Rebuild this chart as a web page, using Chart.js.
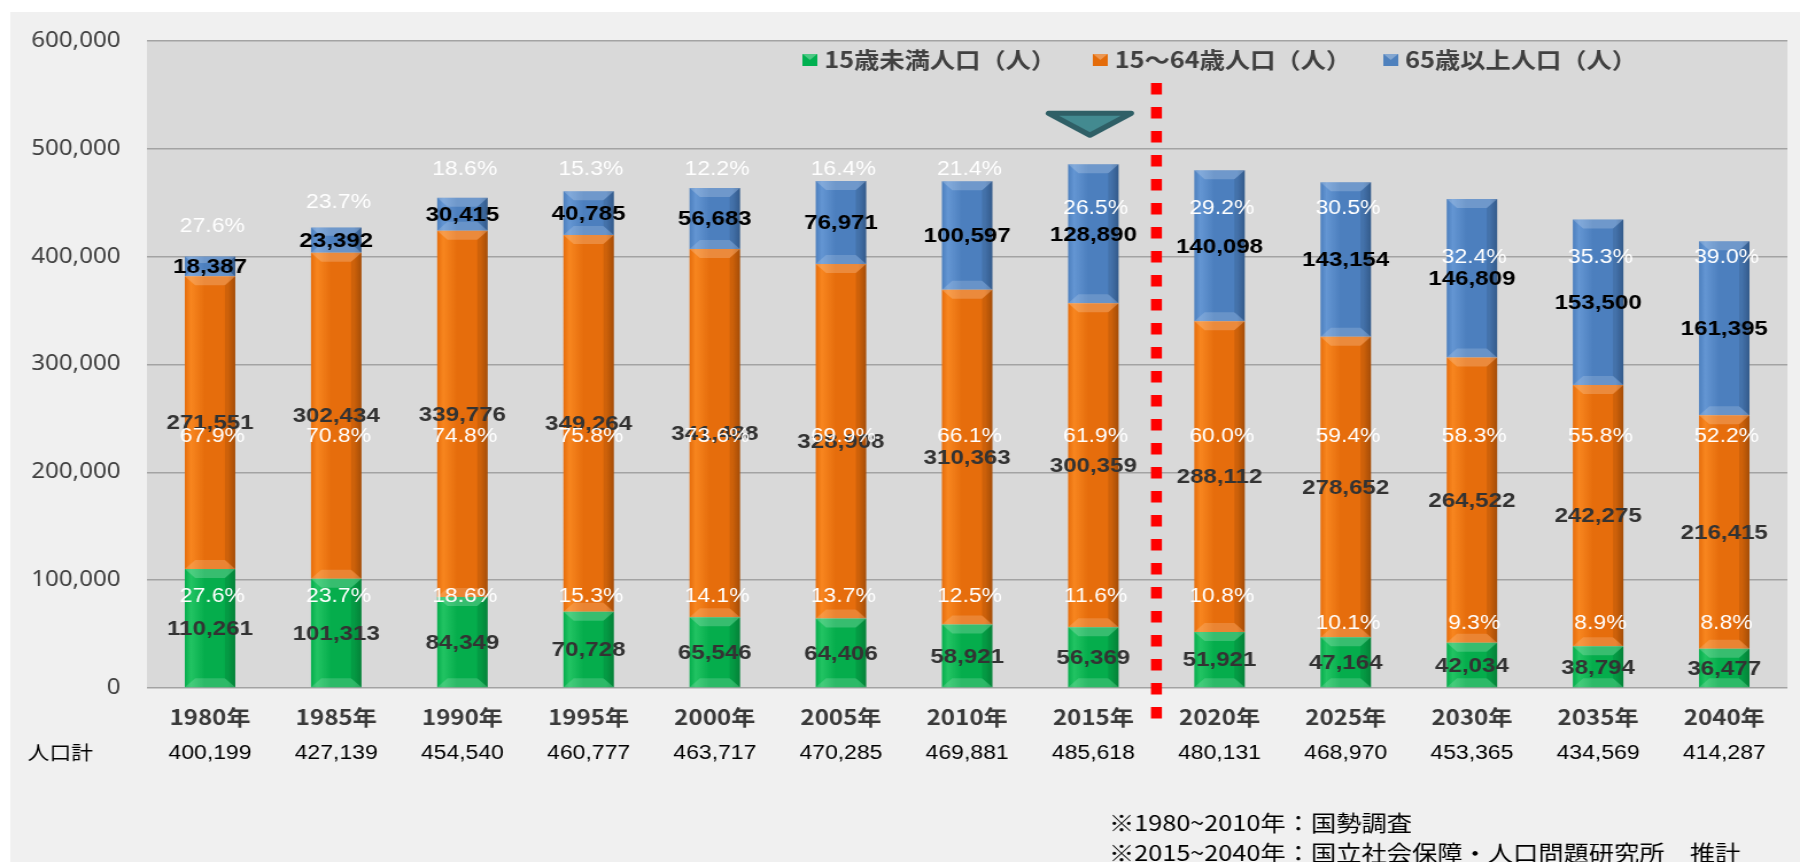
<!DOCTYPE html>
<html lang="ja">
<head>
<meta charset="utf-8">
<title>年齢3区分別人口の推移</title>
<script src="https://cdn.jsdelivr.net/npm/chart.js@4/dist/chart.umd.min.js"></script>
<style>
  html, body { margin: 0; padding: 0; background: #ffffff; }
  #wrap { width: 1800px; height: 862px; overflow: hidden; }
</style>
</head>
<body>
<div id="wrap">
  <!-- drawn at 1568 wide and stretched to 1800, like the source picture -->
  <canvas id="popChart" width="1568" height="862" style="width:1800px;height:862px;display:block"></canvas>
</div>
<script>
// 年次
const years = ['1980年', '1985年', '1990年', '1995年', '2000年', '2005年', '2010年',
               '2015年', '2020年', '2025年', '2030年', '2035年', '2040年'];

// 人口（人）
const under15 = [110261, 101313, 84349, 70728, 65546, 64406, 58921,
                 56369, 51921, 47164, 42034, 38794, 36477];
const age15to64 = [271551, 302434, 339776, 349264, 341488, 328908, 310363,
                   300359, 288112, 278652, 264522, 242275, 216415];
const over65 = [18387, 23392, 30415, 40785, 56683, 76971, 100597,
                128890, 140098, 143154, 146809, 153500, 161395];
const totals = [400199, 427139, 454540, 460777, 463717, 470285, 469881,
                485618, 480131, 468970, 453365, 434569, 414287];

// 割合（%）: as printed on the chart
const under15Pct = [27.6, 23.7, 18.6, 15.3, 14.1, 13.7, 12.5, 11.6, 10.8, 10.1, 9.3, 8.9, 8.8];
const age15to64Pct = [67.9, 70.8, 74.8, 75.8, 73.6, 69.9, 66.1, 61.9, 60.0, 59.4, 58.3, 55.8, 52.2];
const over65Pct = [27.6, 23.7, 18.6, 15.3, 12.2, 16.4, 21.4, 26.5, 29.2, 30.5, 32.4, 35.3, 39.0];

const seriesNames = ['15歳未満人口（人）', '15～64歳人口（人）', '65歳以上人口（人）'];
const yTickMax = 600000;
const yTickStep = 100000;

const notes = ['※1980~2010年：国勢調査', '※2015~2040年：国立社会保障・人口問題研究所　推計'];

const JP = '"Noto Sans CJK JP", "Noto Sans", sans-serif';
const LAT = '"Liberation Sans", Arial, sans-serif';

const palette = [
  { light: '#22c463', mid: '#05ad4c', dark: '#06913f', key: '#00b050' },
  { light: '#f8861f', mid: '#e66d0c', dark: '#b85608', key: '#e46c0a' },
  { light: '#6496d3', mid: '#4c7fbe', dark: '#3a659b', key: '#4f81bd' }
];

const fmt = v => v.toLocaleString('en-US');

// horizontal shading across each column
function columnFill(p) {
  return function (ctx) {
    const chart = ctx.chart;
    const xs = chart.scales.x;
    if (ctx.type !== 'data' || !xs || !xs.width) return p.mid;
    const cx = xs.getPixelForValue(ctx.dataIndex);
    const half = xs.width / years.length * 0.4 / 2;
    const g = chart.ctx.createLinearGradient(cx - half, 0, cx + half, 0);
    g.addColorStop(0, p.mid);
    g.addColorStop(0.12, p.light);
    g.addColorStop(0.4, p.mid);
    g.addColorStop(0.85, p.mid);
    g.addColorStop(1, p.dark);
    return g;
  };
}

const decor = {
  id: 'decor',
  beforeDraw(chart) {
    const { ctx, chartArea: a } = chart;
    ctx.save();
    ctx.fillStyle = '#ffffff';
    ctx.fillRect(0, 0, chart.width, chart.height);
    ctx.fillStyle = '#f0f0f0';
    ctx.fillRect(9, 12, chart.width - 9, chart.height - 12);
    ctx.fillStyle = '#d9d9d9';
    ctx.fillRect(a.left, a.top, a.right - a.left, a.bottom - a.top);
    ctx.restore();
  },
  afterDatasetsDraw(chart) {
    const ctx = chart.ctx;
    ctx.save();
    chart.data.datasets.forEach((ds, di) => {
      chart.getDatasetMeta(di).data.forEach(bar => {
        const { x, y, base, width } = bar.getProps(['x', 'y', 'base', 'width'], true);
        const l = x - width / 2, r = x + width / 2;
        const b = Math.min(9, (base - y) / 3);
        ctx.fillStyle = 'rgba(255,255,255,0.20)';
        ctx.beginPath();
        ctx.moveTo(l, y); ctx.lineTo(r, y); ctx.lineTo(r - b, y + b); ctx.lineTo(l + b, y + b);
        ctx.closePath(); ctx.fill();
        ctx.fillStyle = 'rgba(255,255,255,0.16)';
        ctx.beginPath();
        ctx.moveTo(l, base); ctx.lineTo(r, base); ctx.lineTo(r - b, base - b); ctx.lineTo(l + b, base - b);
        ctx.closePath(); ctx.fill();
        ctx.fillStyle = 'rgba(0,0,0,0.10)';
        ctx.beginPath();
        ctx.moveTo(r, y); ctx.lineTo(r, base); ctx.lineTo(r - b, base - b); ctx.lineTo(r - b, y + b);
        ctx.closePath(); ctx.fill();
      });
    });
    ctx.restore();
  },
  afterDraw(chart) {
    const { ctx, chartArea: a } = chart;
    const xs = chart.scales.x, ys = chart.scales.y;
    const cfg = chart.options.plugins.decor;
    ctx.save();

    // projection divider between 2015 and 2020
    const xd = (xs.getPixelForValue(7) + xs.getPixelForValue(8)) / 2;
    ctx.strokeStyle = '#ff0000';
    ctx.lineWidth = 9.5;
    ctx.setLineDash([11.5, 12.5]);
    ctx.beginPath();
    ctx.moveTo(xd, ys.getPixelForValue(cfg.dividerTop));
    ctx.lineTo(xd, a.bottom + 31);
    ctx.stroke();
    ctx.setLineDash([]);

    // marker above 2015
    const xt = xs.getPixelForValue(7) - 3;
    const yt = ys.getPixelForValue(cfg.markerTop);
    ctx.beginPath();
    ctx.moveTo(xt - 36, yt); ctx.lineTo(xt + 36, yt); ctx.lineTo(xt, yt + 22);
    ctx.closePath();
    ctx.fillStyle = '#438a90';
    ctx.fill();
    ctx.lineJoin = 'round';
    ctx.lineWidth = 5;
    ctx.strokeStyle = '#2f5f66';
    ctx.stroke();

    // value labels in the middle of each segment
    ctx.textAlign = 'center';
    ctx.textBaseline = 'middle';
    ctx.font = 'bold 21px ' + LAT;
    const valueColors = ['#333333', '#333333', '#000000'];
    chart.data.datasets.forEach((ds, di) => {
      chart.getDatasetMeta(di).data.forEach((bar, i) => {
        const { x, y, base } = bar.getProps(['x', 'y', 'base'], true);
        ctx.fillStyle = valueColors[di];
        ctx.fillText(fmt(ds.data[i]), x, (y + base) / 2 + 1);
      });
    });

    // percentage labels
    ctx.font = '20px ' + LAT;
    ctx.fillStyle = '#ffffff';
    const pctSets = [under15Pct, age15to64Pct, over65Pct];
    pctSets.forEach((set, di) => {
      set.forEach((p, i) => {
        const at = cfg.pctAt[di][i];
        ctx.fillText(p.toFixed(1) + '%', xs.getPixelForValue(i) + 2, ys.getPixelForValue(at));
      });
    });

    // legend inside the plot
    ctx.textAlign = 'left';
    ctx.font = 'bold 22px ' + JP;
    chart.data.datasets.forEach((ds, di) => {
      const lx = cfg.legendX + di * cfg.legendStep;
      ctx.fillStyle = palette[di].key;
      ctx.fillRect(lx, 54, 13, 12);
      ctx.fillStyle = 'rgba(255,255,255,0.3)';
      ctx.beginPath();
      ctx.moveTo(lx, 54); ctx.lineTo(lx + 13, 54); ctx.lineTo(lx + 6.5, 60); ctx.closePath(); ctx.fill();
      ctx.fillStyle = '#404040';
      ctx.fillText(ds.label, lx + 19, 60);
    });

    // 人口計 row
    const rowY = a.bottom + 65;
    ctx.fillStyle = '#000000';
    ctx.font = '19px ' + JP;
    ctx.fillText('人口計', 24, rowY);
    ctx.textAlign = 'center';
    ctx.font = '20px ' + LAT;
    totals.forEach((t, i) => ctx.fillText(fmt(t), xs.getPixelForValue(i), rowY));

    // source notes
    ctx.textAlign = 'left';
    ctx.font = '22px ' + JP;
    notes.forEach((n, k) => ctx.fillText(n, 966, 823 + k * 30));

    ctx.restore();
  }
};

const ctx = document.getElementById('popChart').getContext('2d');
const popChart = new Chart(ctx, {
  type: 'bar',
  data: {
    labels: years,
    datasets: [
      { label: seriesNames[0], data: under15, backgroundColor: columnFill(palette[0]) },
      { label: seriesNames[1], data: age15to64, backgroundColor: columnFill(palette[1]) },
      { label: seriesNames[2], data: over65, backgroundColor: columnFill(palette[2]) }
    ]
  },
  options: {
    responsive: false,
    animation: false,
    devicePixelRatio: 1,
    layout: { padding: { left: 0, right: 11, top: 41, bottom: 0 } },
    datasets: { bar: { categoryPercentage: 1, barPercentage: 0.4, borderWidth: 0 } },
    plugins: {
      legend: { display: false },
      tooltip: { enabled: false },
      decor: {
        dividerTop: 561000,
        markerTop: 533000,
        legendX: 699,
        legendStep: 253,
        pctAt: [
          [84500, 84500, 84500, 84500, 84500, 84500, 84500, 84500, 84500, 60000, 60000, 60000, 60000],
          [233000, 233000, 233000, 233000, 233000, 233000, 233000, 233000, 233000, 233000, 233000, 233000, 233000],
          [428000, 450000, 480500, 480500, 480500, 480500, 480500, 445000, 445000, 445000, 399000, 399000, 399000]
        ]
      }
    },
    scales: {
      x: {
        stacked: true,
        grid: { display: false, drawTicks: false },
        border: { display: false },
        ticks: { color: '#3a3a3a', font: { family: JP, size: 21, weight: 'bold' }, padding: 16, maxRotation: 0 },
        afterFit: s => { s.height = 174; }
      },
      y: {
        stacked: true,
        min: 0,
        max: yTickMax,
        border: { display: false },
        grid: { color: '#a3a3a3', lineWidth: 1.5, drawTicks: false },
        ticks: {
          stepSize: yTickStep,
          padding: 23,
          color: '#404040',
          font: { family: '"Noto Sans", sans-serif', size: 21 },
          callback: v => fmt(v)
        },
        afterFit: s => { s.width = 128; }
      }
    }
  },
  plugins: [decor]
});
</script>
</body>
</html>
